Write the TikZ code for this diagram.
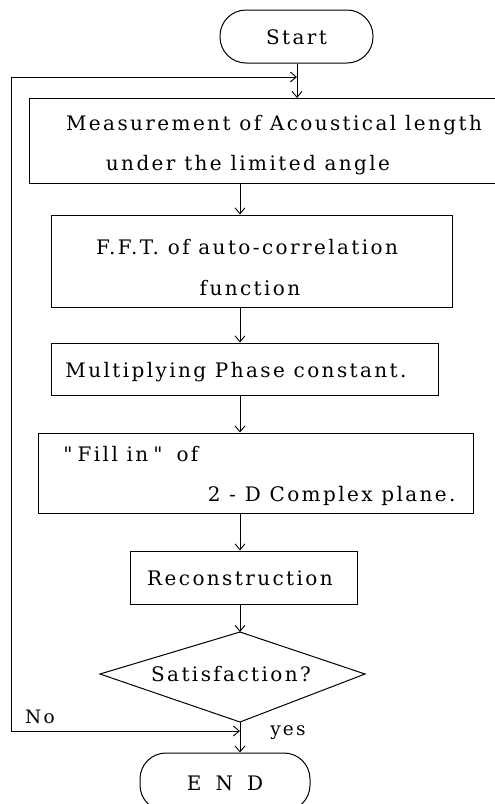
\documentclass[tikz,border=0pt]{standalone}
\usepackage{fontspec}
\setmainfont{DejaVu Serif}[LetterSpace=12]
\newfontfamily\qfont{DejaVu Serif}[Ligatures=TeXOff]
\usetikzlibrary{arrows.meta}
\begin{document}
\begin{tikzpicture}[x=1pt,y=-1pt,
  line width=0.9pt,
  box/.style={draw,line width=1pt},
  txt/.style={inner sep=0pt,font=\fontsize{20}{24}\selectfont},
  lbl/.style={inner sep=0pt,font=\fontsize{18.5}{22}\selectfont},
  arr/.style={-{Straight Barb[length=6pt,width=10pt]}},
  term/.style={draw,line width=1pt,rounded corners=26pt,inner sep=0pt}]
\path[use as bounding box] (0,0) rectangle (495,804);
\clip (0,0) rectangle (495,804);
% terminals
\node[term,minimum width=153pt,minimum height=53pt] (start) at (296.5,36.5) {};
\node[txt] (starttxt) at (296.5,37) {Start};
\node[term,minimum width=170pt,minimum height=58pt] (end) at (225,782) {};
\node[txt] (endtxt) at (225,783) {E\hspace{14pt}N\hspace{14pt}D};
% box 1 (open to the right edge)
\coordinate (b1tl) at (29,98);
\coordinate (b1bl) at (29,183);
\draw[line width=1pt] (500,98) -- (b1tl) -- (b1bl) -- (500,183);
\coordinate (b1n) at (297,98);
\coordinate (b1s) at (240,183);
\node[txt] (t1a) at (274,125) {Measurement of Acoustical length};
\node[txt] (t1b) at (248,165) {under the limited angle};
% box 2
\node[box,minimum width=401pt,minimum height=92pt] (b2) at (251.5,261) {};
\node[txt] (t2a) at (247,247) {F.F.T. of auto-correlation};
\node[txt] (t2b) at (250,288) {function};
% box 3
\node[box,minimum width=387pt,minimum height=52pt] (b3) at (244.5,369) {};
\node[txt] (t3) at (236,372) {Multiplying Phase constant.};
% box 4
\node[box,minimum width=435pt,minimum height=80pt] (b4) at (255.5,473) {};
\node[txt,anchor=west] (t4a) at (63,454) {{\qfont"}\hspace{5pt}Fill in\hspace{5pt}{\qfont"}\hspace{14pt}of};
\node[txt,anchor=east] (t4b) at (456,496) {2 - D Complex plane.};
% box 5
\node[box,minimum width=227pt,minimum height=53pt] (b5) at (243.5,577.5) {};
\node[txt] (t5) at (240,578) {Reconstruction};
% decision
\coordinate (dt) at (240,632);
\coordinate (dl) at (100,674);
\coordinate (dr) at (365,674);
\coordinate (db) at (240,722);
\draw[line width=1pt] (dt) -- (dr) -- (db) -- (dl) -- cycle;
\node[txt] (t6) at (231,674) {Satisfaction?};
% loop
\coordinate (jn) at (240,731);
\coordinate (lc1) at (11,731);
\coordinate (lc2) at (11,77);
\coordinate (tj) at (297,77);
% connectors
\draw[arr] (start.south -| b1n) -- (b1n);
\draw[arr] (b1s) -- (b2.north -| b1s);
\draw[arr] (b2.south -| b1s) -- (b3.north -| b1s);
\draw[arr] (b3.south -| b1s) -- (b4.north -| b1s);
\draw[arr] (b4.south -| b1s) -- (b5.north -| b1s);
\draw[arr] (b5.south -| b1s) -- (dt);
\draw (db) -- (jn);
\draw[arr] (jn) -- (end.north -| jn);
\draw[{Straight Barb[length=6pt,width=10pt]}-{Straight Barb[length=6pt,width=10pt]}] (jn) -- (lc1) -- (lc2) -- (tj);
\node[lbl] (no) at (40,717) {No};
\node[lbl] (yes) at (288,733) {yes};
\end{tikzpicture}
\end{document}
